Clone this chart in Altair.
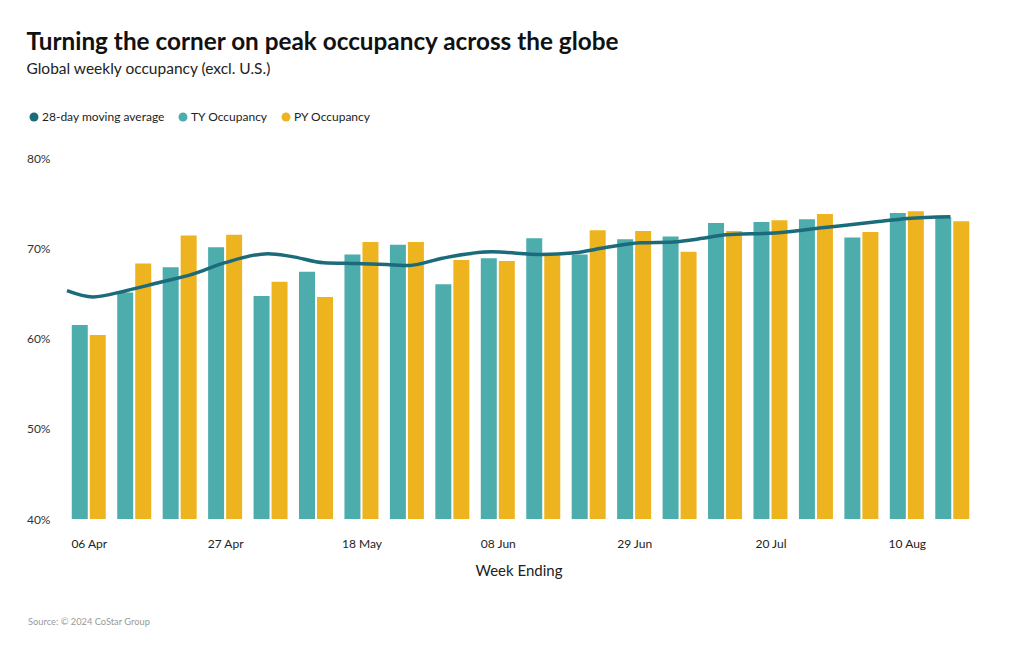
import altair as alt
import pandas as pd

# ---- data ----
weeks = ["06 Apr", "13 Apr", "20 Apr", "27 Apr", "04 May", "11 May", "18 May",
         "25 May", "01 Jun", "08 Jun", "15 Jun", "22 Jun", "29 Jun", "06 Jul",
         "13 Jul", "20 Jul", "27 Jul", "03 Aug", "10 Aug", "17 Aug"]
ty_occ = [61.5, 65.1, 67.9, 70.1, 64.7, 67.4, 69.3, 70.4, 66.0, 68.9,
          71.1, 69.3, 71.0, 71.3, 72.8, 72.9, 73.2, 71.2, 73.9, 73.4]
py_occ = [60.4, 68.3, 71.4, 71.5, 66.3, 64.6, 70.7, 70.7, 68.7, 68.6,
          69.2, 72.0, 71.9, 69.6, 71.9, 73.1, 73.8, 71.8, 74.1, 73.0]
# 28-day moving average, position in weeks from 06 Apr
ma_pos = [-0.48, 0.09, 0.82, 1.55, 2.27, 3.0, 3.94, 4.45, 5.17, 5.9, 6.55,
          7.05, 7.78, 8.87, 9.96, 10.69, 11.4, 12.14, 12.86, 13.51, 14.02,
          15.1, 16.19, 17.28, 18.02, 18.96]
ma_val = [65.3, 64.6, 65.3, 66.2, 67.1, 68.4, 69.4, 69.1, 68.4, 68.3, 68.2,
          68.1, 68.9, 69.6, 69.3, 69.5, 70.1, 70.6, 70.7, 71.1, 71.5,
          71.7, 72.3, 72.9, 73.3, 73.5]
tick_weeks = [0, 3, 6, 9, 12, 15, 18]
y_ticks = [40, 50, 60, 70, 80]
y_base = 40

series_names = ["28-day moving average", "TY Occupancy", "PY Occupancy"]
series_colors = ["#1c6b7b", "#4dadad", "#eeb420"]

FONT = "Lato"

bars = pd.DataFrame({
    "idx": list(range(len(weeks))) * 2,
    "week": weeks * 2,
    "value": ty_occ + py_occ,
    "series": ["TY Occupancy"] * len(weeks) + ["PY Occupancy"] * len(weeks),
})
line_df = pd.DataFrame({"pos": ma_pos, "value": ma_val,
                        "series": "28-day moving average"})
src_df = pd.DataFrame({"t": ["Source: © 2024 CoStar Group"]})

label_arr = "[" + ",".join("'%s'" % w for w in weeks) + "]"

x_scale = alt.Scale(domain=[-0.479, 19.39], nice=False, zero=False)
y_scale = alt.Scale(domain=[40, 80], nice=False, zero=False)

x_axis = alt.Axis(values=tick_weeks, labelExpr=label_arr + "[datum.value]",
                  title="Week Ending", grid=False, domain=False, ticks=False,
                  labelPadding=19, labelFontSize=12, labelColor="#222222",
                  titleFontSize=15, titleFontWeight="normal", titleColor="#222222",
                  titlePadding=14, labelFont=FONT, titleFont=FONT)
y_axis = alt.Axis(values=y_ticks, labelExpr="datum.value + '%'", title=None,
                  grid=False, domain=False, ticks=False, labelPadding=12,
                  labelFontSize=12, labelColor="#333333", labelFont=FONT)

color = alt.Color("series:N",
                  scale=alt.Scale(domain=series_names, range=series_colors),
                  legend=alt.Legend(title=None, orient="none", legendX=-34,
                                    legendY=-47, direction="horizontal",
                                    symbolType="circle", symbolSize=80,
                                    labelFontSize=12, labelFont=FONT,
                                    labelColor="#222222", labelOffset=2,
                                    columnPadding=12, symbolStrokeWidth=0))

ty = alt.Chart(bars).transform_filter("datum.series == 'TY Occupancy'").mark_bar(
    size=16, xOffset=-9).encode(
    x=alt.X("idx:Q", scale=x_scale, axis=x_axis),
    y=alt.Y("value:Q", scale=y_scale, axis=y_axis),
    y2=alt.datum(y_base),
    color=color,
)
py = alt.Chart(bars).transform_filter("datum.series == 'PY Occupancy'").mark_bar(
    size=16, xOffset=9).encode(
    x=alt.X("idx:Q", scale=x_scale, axis=x_axis),
    y=alt.Y("value:Q", scale=y_scale, axis=y_axis),
    y2=alt.datum(y_base),
    color=color,
)
line = alt.Chart(line_df).mark_line(interpolate="monotone", strokeWidth=3.5,
                                    color=series_colors[0]).encode(
    x=alt.X("pos:Q", scale=x_scale, axis=x_axis),
    y=alt.Y("value:Q", scale=y_scale, axis=y_axis),
)
source = alt.Chart(src_df).mark_text(align="left", baseline="middle",
                                     fontSize=9.3, color="#999999",
                                     font=FONT).encode(
    text="t:N", x=alt.value(-34), y=alt.value(464))

chart = alt.layer(ty, py, line, source).properties(
    width=913, height=361,
    autosize=alt.AutoSizeParams(type="none"),
    padding={"left": 62, "top": 158, "right": 45, "bottom": 131},
    title=alt.TitleParams(
        text="Turning the corner on peak occupancy across the globe",
        subtitle="Global weekly occupancy (excl. U.S.)",
        anchor="start", frame="bounds", font=FONT, fontSize=24.3,
        fontWeight="bold", color="#111111", subtitleFont=FONT,
        subtitleFontSize=15.5, subtitleColor="#222222", subtitlePadding=6,
        offset=34),
).configure(background="white").configure_view(strokeWidth=0)

chart.save("out.html", embed_options={"renderer": "svg", "actions": False})
